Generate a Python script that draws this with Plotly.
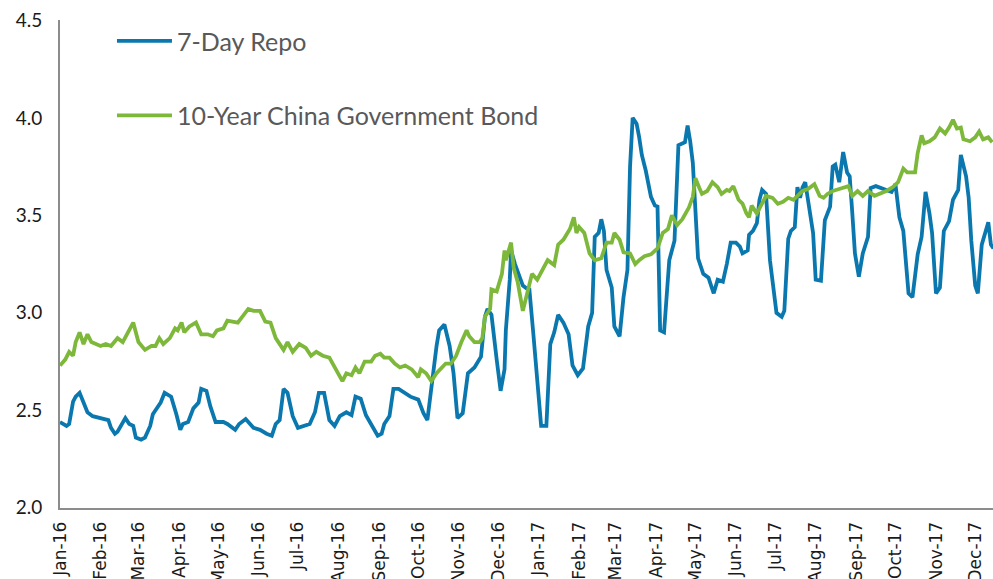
import pandas as pd
import plotly.graph_objects as go

START = "2016-01-01"

# 7-Day Repo: days since 2016-01-01 and rate (%)
repo_days = [0,5,7,10,12,15,18,21,25,31,37,39,42,44,48,50,53,56,58,62,65,69,71,75,77,80,83,85,89,92,94,98,
             102,106,108,112,115,119,125,128,134,137,142,148,153,158,162,165,168,171,174,178,182,186,191,195,
             198,202,206,210,214,219,223,226,230,234,239,243,246,248,252,255,259,264,268,274,278,281,284,288,
             290,294,298,301,304,308,312,317,322,325,327,330,334,337,340,341,344,345,348,352,354,357,359,362,
             366,368,372,375,378,381,385,389,392,396,400,404,407,409,412,414,416,418,422,424,428,431,434,436,
             438,441,443,445,448,452,455,457,459,462,466,470,473,478,480,482,484,486,488,492,496,498,500,503,
             507,510,511,513,517,520,522,526,527,530,533,535,537,540,543,545,548,552,554,557,559,562,564,566,
             568,570,573,576,578,582,585,589,591,593,596,599,602,604,606,608,611,614,618,620,624,628,632,636,
             639,642,645,647,649,652,656,659,662,665,667,670,673,676,680,683,687,689,693,695,697,700,702,705,
             708,710,712,714]
repo_vals = [2.44,2.42,2.43,2.545,2.57,2.59,2.54,2.49,2.47,2.46,2.45,2.41,2.38,2.39,2.44,2.46,2.43,2.42,2.36,2.35,
             2.36,2.42,2.48,2.52,2.54,2.59,2.58,2.57,2.48,2.40,2.43,2.44,
             2.51,2.54,2.61,2.60,2.52,2.44,2.44,2.43,2.40,2.43,2.455,2.41,2.40,2.38,2.37,2.43,2.45,2.61,2.59,
             2.47,2.41,2.42,2.43,2.49,
             2.59,2.59,2.45,2.42,2.47,2.49,2.475,2.57,2.56,2.475,2.42,2.37,2.38,2.43,2.47,2.61,2.61,2.59,2.57,
             2.555,2.485,2.45,2.62,2.83,
             2.91,2.94,2.83,2.69,2.46,2.485,2.69,2.72,2.775,2.98,3.02,2.99,2.76,2.60,2.71,2.91,3.17,3.32,3.25,
             3.18,3.14,3.125,3.12,2.895,
             2.59,2.42,2.42,2.84,2.90,2.99,2.95,2.89,2.73,2.68,2.715,2.93,3.00,3.39,3.41,3.48,3.42,3.22,3.13,
             2.93,2.88,3.08,3.22,3.75,
             4.00,3.97,3.90,3.81,3.73,3.595,3.55,3.545,2.91,2.90,3.27,3.37,3.86,3.875,3.96,3.88,3.77,3.475,3.28,
             3.20,3.18,3.14,3.10,3.17,
             3.16,3.25,3.29,3.36,3.36,3.34,3.305,3.32,3.40,3.42,3.46,3.58,3.63,3.61,3.27,3.17,3.00,2.98,3.01,
             3.38,3.42,3.44,3.645,3.59,
             3.645,3.67,3.53,3.41,3.17,3.165,3.475,3.545,3.75,3.76,3.67,3.825,3.72,3.70,3.51,3.305,3.185,3.305,
             3.39,3.64,3.65,3.64,3.63,3.62,
             3.66,3.49,3.42,3.24,3.10,3.08,3.30,3.39,3.62,3.51,3.41,3.10,3.13,3.42,3.47,3.58,3.63,3.81,3.70,
             3.59,3.37,3.14,3.10,3.35,
             3.41,3.465,3.35,3.33]

# 10-Year China Government Bond: days since 2016-01-01 and yield (%)
bond_days = [0,4,7,10,12,15,18,21,24,31,35,39,44,48,52,56,60,65,70,73,76,79,84,88,90,93,95,99,104,108,113,117,
             120,125,128,132,136,144,148,153,157,161,165,171,174,178,183,188,192,196,201,206,210,214,216,219,
             223,226,229,233,238,241,245,248,252,256,260,264,269,274,276,280,284,288,292,295,299,303,307,311,
             313,317,321,323,325,329,330,334,338,340,341,345,347,350,354,357,361,365,368,373,378,381,385,390,
             393,395,397,401,405,409,414,418,422,424,428,431,436,440,443,447,452,457,461,465,468,472,476,481,
             484,486,489,491,495,499,503,506,510,512,515,519,522,525,527,529,533,538,540,545,549,553,557,561,
             564,568,572,577,581,584,587,591,596,603,606,610,614,618,623,627,632,637,641,645,648,654,656,659,
             661,665,669,673,677,680,683,686,689,691,696,700,703,706,710,713]
bond_vals = [2.73,2.76,2.80,2.78,2.85,2.90,2.84,2.89,2.85,2.83,2.84,2.83,2.87,2.85,2.90,2.95,2.85,2.81,2.83,2.83,
             2.87,2.84,2.87,2.92,2.91,2.95,2.90,2.93,2.95,2.89,2.89,2.88,
             2.91,2.92,2.96,2.955,2.95,3.02,3.01,3.01,2.955,2.95,2.87,2.81,2.85,2.80,2.84,2.82,2.78,2.80,2.78,
             2.77,2.72,2.67,2.65,2.69,
             2.68,2.72,2.69,2.75,2.75,2.78,2.79,2.77,2.77,2.74,2.72,2.73,2.71,2.67,2.71,2.69,2.65,2.69,2.72,
             2.74,2.74,2.78,2.85,2.91,
             2.88,2.85,2.85,2.87,2.98,3.02,3.12,3.11,3.20,3.32,3.27,3.36,3.23,3.16,3.01,3.10,3.20,3.17,3.21,
             3.27,3.245,3.35,3.375,3.43,
             3.49,3.41,3.44,3.41,3.305,3.27,3.28,3.36,3.36,3.41,3.375,3.31,3.305,3.25,3.27,3.29,3.30,3.33,3.41,
             3.43,3.50,3.45,3.48,3.54,
             3.595,3.69,3.64,3.61,3.625,3.67,3.645,3.61,3.63,3.625,3.65,3.58,3.56,3.51,3.49,3.55,3.51,3.58,3.60,
             3.59,3.56,3.57,3.59,3.58,
             3.60,3.625,3.635,3.66,3.60,3.59,3.61,3.625,3.635,3.65,3.60,3.625,3.60,3.625,3.60,3.61,3.625,3.645,
             3.67,3.74,3.72,3.72,3.82,3.91,
             3.87,3.88,3.90,3.945,3.92,3.95,3.99,3.945,3.95,3.89,3.88,3.90,3.93,3.89,3.90,3.875]

series_names = ["7-Day Repo", "10-Year China Government Bond"]
series_colors = ["#0A78AE", "#7DB83A"]
y_ticks = [2.0, 2.5, 3.0, 3.5, 4.0, 4.5]

start = pd.Timestamp(START)
repo_dates = start + pd.to_timedelta(repo_days, unit="D")
bond_dates = start + pd.to_timedelta(bond_days, unit="D")

fig = go.Figure()
fig.add_trace(go.Scatter(x=repo_dates, y=repo_vals, mode="lines", name=series_names[0],
                         legendgroup="a", line=dict(color=series_colors[0], width=3.8)))
fig.add_trace(go.Scatter(x=bond_dates, y=bond_vals, mode="lines", name=series_names[1],
                         legendgroup="b", line=dict(color=series_colors[1], width=3.8)))

axis_color = "#8C8C8C"
fig.update_layout(
    template="none",
    width=993, height=579,
    margin=dict(l=60, r=0, t=20, b=71, pad=0),
    paper_bgcolor="white", plot_bgcolor="white",
    showlegend=True,
    legend=dict(x=0.0557, y=1.004, xanchor="left", yanchor="top",
                font=dict(family="Lato", size=25, color="#595959"),
                bgcolor="rgba(0,0,0,0)", tracegroupgap=39, itemwidth=55,
                traceorder="grouped"),
    xaxis=dict(type="date",
               range=[start, start + pd.Timedelta(days=713.6)],
               showline=True, linecolor=axis_color, linewidth=2,
               showgrid=False, zeroline=False, ticks="",
               dtick="M1", tick0=START, tickformat="%b-%y", tickangle=-90,
               tickfont=dict(family="DejaVu Sans", size=17, color="#1a1a1a"),
               ticklabelstandoff=5, automargin=False),
    yaxis=dict(range=[1.999, 4.502], tickmode="array", tickvals=y_ticks,
               ticktext=[f"{v:.1f}" for v in y_ticks],
               showline=True, linecolor=axis_color, linewidth=2,
               showgrid=False, zeroline=False, ticks="",
               tickfont=dict(family="Lato", size=19, color="#1a1a1a"),
               ticklabelstandoff=12, automargin=False),
)

fig.write_html("out.html", config={"displayModeBar": False},
               post_script="document.body.style.margin='0';document.body.style.overflow='hidden';")
